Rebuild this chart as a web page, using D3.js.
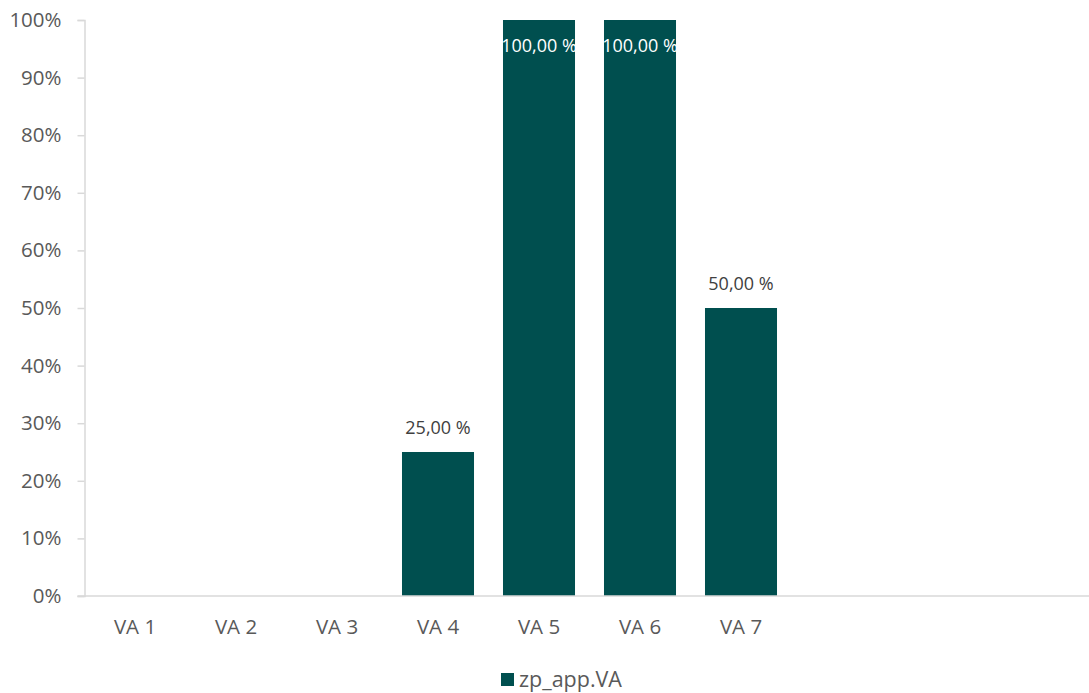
<!DOCTYPE html>
<html>
<head>
<meta charset="utf-8">
<script src="https://cdn.jsdelivr.net/npm/d3@7"></script>
<style>
  html, body { margin: 0; padding: 0; background: #fff; }
  svg { display: block; }
  svg text { font-family: "Open Sans", Lato, sans-serif; }
</style>
</head>
<body>
<svg id="chart" width="1089" height="693"></svg>
<script>
// Category axis has 10 slots; only the first seven are labelled.
const categories = ["VA 1", "VA 2", "VA 3", "VA 4", "VA 5", "VA 6", "VA 7"];
const slotCount = 10;
const values = [null, null, null, 0.25, 1.0, 1.0, 0.5];
const yTicks = [0, 0.1, 0.2, 0.3, 0.4, 0.5, 0.6, 0.7, 0.8, 0.9, 1.0];
const seriesName = "zp_app.VA";

const barColor = "#004f4f";
const textColor = "#595959";
const axisColor = "#d9d9d9";

const svg = d3.select("#chart");
const plotLeft = 84.5, plotTop = 20, plotBottom = 596;
const step = 101;

const x = d3.scaleBand()
  .domain(d3.range(slotCount))
  .range([plotLeft, plotLeft + step * slotCount])
  .paddingInner(0.287)
  .paddingOuter(0.1435);

const y = d3.scaleLinear().domain([0, 1]).range([plotBottom, plotTop]);

const fmtTick = d => d3.format(".0%")(d);
const fmtLabel = d => d3.format(".2f")(d * 100).replace(".", ",") + " %";

// Y axis
const yAxis = svg.append("g")
  .attr("transform", `translate(${plotLeft},0)`)
  .call(d3.axisLeft(y).tickValues(yTicks).tickFormat(fmtTick).tickSize(7).tickPadding(16));
yAxis.select(".domain").attr("stroke", axisColor).attr("stroke-width", 1.5);
yAxis.selectAll(".tick line").attr("stroke", axisColor).attr("stroke-width", 1.5);
yAxis.selectAll(".tick text").attr("fill", textColor).style("font-size", "20.5px");

// Bars
const data = values.map((v, i) => ({ i, v, name: categories[i] }));
svg.append("g").selectAll("rect")
  .data(data.filter(d => d.v != null))
  .join("rect")
  .attr("x", d => x(d.i))
  .attr("width", x.bandwidth())
  .attr("y", d => y(d.v))
  .attr("height", d => y(0) - y(d.v))
  .attr("fill", barColor);

// X axis
const xAxis = svg.append("g")
  .attr("transform", `translate(0,${plotBottom})`)
  .call(d3.axisBottom(x)
    .tickValues(d3.range(categories.length))
    .tickFormat(i => categories[i])
    .tickSize(0).tickPadding(23));
xAxis.select(".domain").remove();
xAxis.selectAll(".tick text").attr("fill", textColor).style("font-size", "20.5px");
svg.append("line")
  .attr("x1", plotLeft - 7).attr("x2", 1089)
  .attr("y1", plotBottom).attr("y2", plotBottom)
  .attr("stroke", axisColor).attr("stroke-width", 1.5);

// Value labels: above the bar, or inside when it reaches the top
svg.append("g").selectAll("text")
  .data(data.filter(d => d.v != null))
  .join("text")
  .attr("x", d => x(d.i) + x.bandwidth() / 2)
  .attr("y", d => d.v >= 0.95 ? y(d.v) + 32 : y(d.v) - 18)
  .attr("text-anchor", "middle")
  .attr("fill", d => d.v >= 0.95 ? "#ffffff" : "#404040")
  .style("font-size", "18px")
  .text(d => fmtLabel(d.v));

// Legend
const legend = svg.append("g").attr("transform", "translate(501,673)");
legend.append("rect").attr("width", 13).attr("height", 13).attr("fill", barColor);
legend.append("text").attr("x", 18).attr("y", 14)
  .attr("fill", textColor).style("font-size", "21.5px").text(seriesName);
</script>
</body>
</html>
